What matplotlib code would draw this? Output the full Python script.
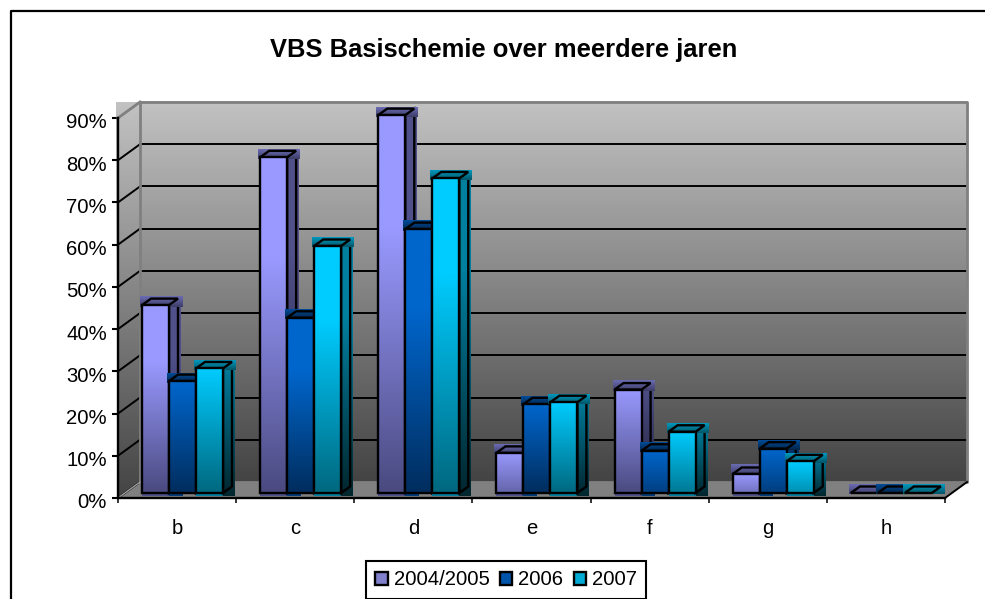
import numpy as np
import matplotlib
matplotlib.use('Agg')
import matplotlib.pyplot as plt
from matplotlib.patches import Polygon, Patch
from matplotlib.lines import Line2D
from matplotlib.transforms import ScaledTranslation

plt.rcParams['font.family'] = ['Liberation Sans', 'DejaVu Sans']

categories = ['b', 'c', 'd', 'e', 'f', 'g', 'h']
series_names = ['2004/2005', '2006', '2007']
vals_2004 = [44.5, 79.5, 89.5, 9.5, 24.5, 4.5, 0]
vals_2006 = [26.5, 41.5, 62.5, 21, 10, 10.5, 0]
vals_2007 = [29.5, 58.5, 74.5, 21.5, 14.5, 7.5, 0]
y_ticks = [0, 10, 20, 30, 40, 50, 60, 70, 80, 90]
y_labels = ['0%', '10%', '20%', '30%', '40%', '50%', '60%', '70%', '80%', '90%']

# colours: front top, front bottom, side top, side bottom, top face
front_top = ['#9999ff', '#0066cc', '#00ccff']
front_bot = ['#4a4a80', '#002d5e', '#00687f']
side_top = ['#50508a', '#003a78', '#007f9f']
side_bot = ['#1c1c33', '#00142a', '#00262e']
lid_a = ['#6c6cb4', '#004c99', '#0099bf']
lid_b = ['#3c3c66', '#002244', '#005566']

# pixel geometry of the reference, turned into data units
PX_X = 827 / 7.0     # pixels per category
PX_Y = 380 / 90.0    # pixels per percent
W, H = 985, 599
X0, Y0 = 118, 498

px = lambda n: n / PX_X
py = lambda n: n / PX_Y

fig = plt.figure(figsize=(W / 100, H / 100), dpi=100)
ax = fig.add_axes([0, 0, 1, 1])
ax.set_xlim(-px(X0), px(W - X0))
ax.set_ylim(-py(H - Y0), py(Y0))
ax.autoscale(False)
ax.patch.set_visible(False)


def grad(x0, x1, y0, y1, top, bot, clip=None, z=2, hold=0.0):
    # vertical gradient, optionally clipped on a polygon
    a = np.array(matplotlib.colors.to_rgb(top))
    b = np.array(matplotlib.colors.to_rgb(bot))
    t = np.linspace(0, 1, 128)
    t = np.clip((t - hold) / (1 - hold), 0, 1)
    img = (a[None, :] * (1 - t[:, None]) + b[None, :] * t[:, None])[:, None, :]
    im = ax.imshow(img, extent=(x0, x1, y0, y1), origin='upper', aspect='auto',
                   interpolation='bilinear', zorder=z)
    if clip is not None:
        im.set_clip_path(Polygon(clip, closed=True, transform=ax.transData))
    else:
        im.set_clip_on(False)
    return im


# walls and floor
DX, DY = px(22), py(16)
top_y = 90 + DY
n = len(categories)
grad(DX, n + DX, DY, top_y, '#c2c2c2', '#444444', z=1)
grad(-px(2), DX, 0, top_y, '#c2c2c2', '#444444', z=1,
     clip=[(-px(2), 90), (-px(2), top_y), (DX, top_y), (DX, DY), (0, 0)])
floor = [(0, 0), (DX, DY), (n + DX, DY), (n, 0)]
ax.add_patch(Polygon(floor, closed=True, fc='#808080', ec='none', zorder=1))
for v in y_ticks[1:-1]:
    ax.plot([DX, n + DX], [v + DY, v + DY], color='black', lw=1.4, zorder=1.5)
for v in y_ticks[:-1]:
    ax.plot([0, DX], [v, v + DY], color='black', lw=1.4, zorder=1.5)
ax.plot([DX, DX, n + DX, n + DX, DX], [DY, top_y, top_y, DY, DY], color='#808080', lw=2, zorder=1.6)
ax.plot([0, DX], [90, top_y], color='#808080', lw=2, zorder=1.6)
ax.plot([DX, 0], [DY, 0], color='#a0a0a0', lw=1, zorder=1.6)
ax.plot([n, n + DX], [0, DY], color='black', lw=1.4, zorder=1.6)

# bars
bar_w = px(27)
bdx, bdy = px(9), py(6.5)
start = px(24)
base = py(5)
all_vals = [vals_2004, vals_2006, vals_2007]
z = 3
for c in range(n):
    for s in range(3):
        v = all_vals[s][c]
        x = c + start + s * bar_w
        y = base + v
        # how dark the foot of the front gets: short bars stay lighter
        mix = min(1.0, 0.35 + v / 30.0)
        a = np.array(matplotlib.colors.to_rgb(front_top[s]))
        b = np.array(matplotlib.colors.to_rgb(front_bot[s]))
        foot = a * (1 - mix) + b * mix
        hold = 0.3 if v > 40 else 0.0
        xr = x + bar_w
        if v > 0:
            # strip under the bar
            ax.add_patch(Polygon([(x, base), (xr if s != 1 else x + bar_w / 2, base),
                                  (xr if s != 1 else x + bar_w / 2, base - py(2.5)), (x, base - py(2.5))],
                                 closed=True, fc=side_top[s], ec='none', zorder=z))
            # side face with its rectangle
            grad(xr, xr + bdx + px(3), base - py(3), y + bdy,
                 side_top[s], side_bot[s], z=z + 0.1, hold=hold)
            ax.add_patch(Polygon([(xr, base), (xr + bdx, base + bdy), (xr + bdx, y + bdy), (xr, y)],
                                 closed=True, fc='none', ec='black', lw=1.7, zorder=z + 0.2))
        # top face with its rectangle
        grad(x - px(2), xr + bdx + px(4), y - py(1.5), y + bdy + py(2),
             lid_a[s], lid_b[s], z=z + 0.3)
        ax.add_patch(Polygon([(x, y), (xr, y), (xr + bdx, y + bdy), (x + bdx, y + bdy)],
                             closed=True, fc='none', ec='black', lw=1.7, zorder=z + 0.4))
        if v > 0:
            grad(x, xr, base, y, front_top[s], foot, z=z + 0.5, hold=hold)
            ax.add_patch(Polygon([(x, base), (xr, base), (xr, y), (x, y)],
                                 closed=True, fc='none', ec='black', lw=1.7, zorder=z + 0.6))
        z += 1

# axes
for name in ['top', 'right']:
    ax.spines[name].set_visible(False)
ax.spines['left'].set_position(('data', 0))
ax.spines['bottom'].set_position(('data', 0))
ax.spines['left'].set_bounds(0, 90)
ax.spines['bottom'].set_bounds(0, n)
ax.spines['left'].set_linewidth(1.7)
ax.spines['bottom'].set_linewidth(1.7)
ax.spines['left'].set_zorder(100)
ax.spines['bottom'].set_zorder(100)
ax.set_yticks(y_ticks)
ax.set_yticklabels(y_labels, fontsize=14.6)
ax.tick_params(axis='y', length=4.5, width=1.5, pad=3.5, colors='black')
down = ScaledTranslation(0, -3 / 72 * 0.72, fig.dpi_scale_trans)
for lbl in ax.get_yticklabels():
    lbl.set_transform(lbl.get_transform() + down)
ax.set_xticks(np.arange(n + 1))
ax.set_xticklabels([])
ax.tick_params(axis='x', which='major', length=3.5, width=1.1)
ax.set_xticks(np.arange(n) + 0.5, minor=True)
ax.set_xticklabels(categories, minor=True, fontsize=14.6)
ax.tick_params(axis='x', which='minor', length=0, pad=15)

# title
ax.text((504 - X0) / PX_X, (Y0 - 50) / PX_Y, 'VBS Basischemie over meerdere jaren',
        fontsize=18.4, fontweight='bold', ha='center', va='center')

# legend
handles = [Patch(fc=front_top[i], ec='black', lw=1.7) for i in range(3)]
handles[0].set_facecolor('#8080cc')
handles[1].set_facecolor('#0055aa')
handles[2].set_facecolor('#00aad4')
leg = ax.legend(handles, series_names, ncol=3, fontsize=14.6, loc='lower left',
                bbox_to_anchor=(366 / W, 1 - 598.5 / H), bbox_transform=fig.transFigure,
                fancybox=False, framealpha=1, edgecolor='black', borderpad=0.45,
                handlelength=0.62, handleheight=0.62, handletextpad=0.3, columnspacing=0.5,
                borderaxespad=0)
leg.get_frame().set_linewidth(1.5)
leg.set_zorder(200)

# chart border, right and bottom are outside the picture
fig.add_artist(Line2D([10.5 / W, 10.5 / W, 1], [0, 1 - 10.5 / H, 1 - 10.5 / H], color='black', lw=1.6))

fig.savefig('out.png', dpi=100)
